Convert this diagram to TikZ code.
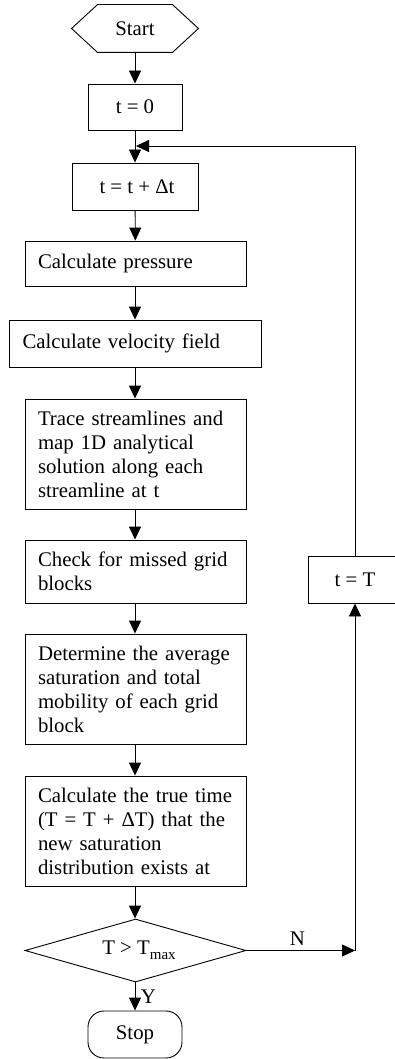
\documentclass[tikz,border=0pt]{standalone}
\usepackage{fontspec}
\setmainfont{Liberation Serif}
\usetikzlibrary{arrows.meta,shapes.geometric,calc}
\begin{document}
\begin{tikzpicture}[x=1pt,y=-1pt,
  font=\fontsize{20.8}{24}\selectfont,
  line width=0.9pt,
  arr/.style={-{Triangle[length=13pt,width=12pt]}},
  box/.style={draw,rectangle,inner sep=0pt,minimum height=#1},
  lbox/.style={box=#1,align=left,text width=195pt,minimum width=221pt},
  cbox/.style={box=#1,align=center},
]
\clip (0,0) rectangle (395,1059);
\fill[white] (0,0) rectangle (395,1059);
% start hexagon
\node[minimum width=126pt,minimum height=47pt,inner sep=0pt] (start) at (135,28.5) {Start};
\draw ($(start.north west)+(26,0)$) -- ($(start.north east)+(-26,0)$) -- (start.east)
  -- ($(start.south east)+(-26,0)$) -- ($(start.south west)+(26,0)$) -- (start.west) -- cycle;
\node[cbox=46pt,minimum width=94pt] (t0) at (135,107) {t = 0};
\node[cbox=47pt,minimum width=126pt] (tdt) at (135,186.5) {\hspace*{4pt}t = t + Δt};
\node[lbox=45pt] (press) at (135.5,263.5) {Calculate pressure};
\node[box=47pt,minimum width=252pt,text width=225pt,align=left] (vel) at (135,343.5) {Calculate velocity field};
\node[lbox=110pt] (trace) at (135.5,454) {Trace streamlines and\\map 1D analytical\\solution along each\\streamline at t};
\node[lbox=63pt] (check) at (135.5,571.5) {Check for missed grid\\blocks};
\node[lbox=110pt] (det) at (135.5,689) {Determine the average\\saturation and total\\mobility of each grid\\block};
\node[lbox=110pt] (true) at (135.5,831) {Calculate the true time\\(T = T + ΔT) that the\\new saturation\\distribution exists at};
\node[draw,diamond,aspect=3.5,inner sep=0pt,minimum width=221pt,minimum height=63pt] (dec) at (135.5,950.5) {};
\node at (139,950.5) {T > T\raisebox{-0.5ex}{\fontsize{15}{15}\selectfont max}};
\node[draw,rectangle,rounded corners=16pt,minimum width=94pt,minimum height=47pt,inner sep=0pt] (stop) at (135,1034.5) {Stop};
\node[cbox=47pt,minimum width=94pt] (tT) at (355,579.5) {t = T};
\coordinate (cN) at (tT.south |- dec.east);
\coordinate (loop) at (136,146);
\draw[arr] (start) -- (t0);
\draw[arr] (t0) -- (tdt);
\draw[arr] (tdt) -- (press);
\draw[arr] (press.south -| tdt) -- (vel.north -| tdt);
\draw[arr] (vel.south -| tdt) -- (trace.north -| tdt);
\draw[arr] (trace.south -| tdt) -- (check.north -| tdt);
\draw[arr] (check.south -| tdt) -- (det.north -| tdt);
\draw[arr] (det.south -| tdt) -- (true.north -| tdt);
\draw[arr] (true.south -| tdt) -- (dec.north -| tdt);
\draw[arr] (dec.south -| tdt) -- node[right=2pt,pos=0.5] {Y} (stop);
\draw[arr] (dec.east) -- node[above=1pt,pos=0.47] {N} (cN);
\draw[arr] (cN) -- (tT.south);
\draw[arr] (tT.north) |- (loop);
\end{tikzpicture}
\end{document}
